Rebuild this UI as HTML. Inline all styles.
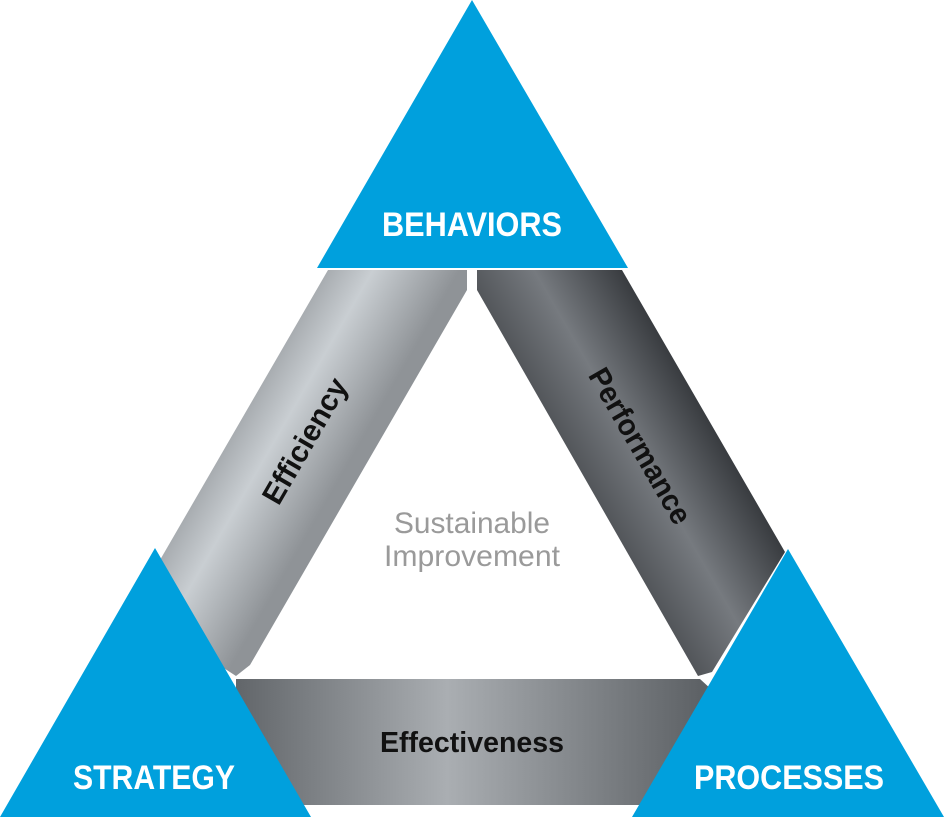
<!DOCTYPE html>
<html><head><meta charset="utf-8"><style>html,body{margin:0;padding:0;background:#fff}svg{display:block}</style></head>
<body>
<svg width="944" height="817" viewBox="0 0 944 817" xmlns="http://www.w3.org/2000/svg" font-family="Liberation Sans, sans-serif">
<defs>
<linearGradient id="gl" gradientUnits="userSpaceOnUse" x1="200" y1="420" x2="330" y2="495">
<stop offset="0" stop-color="#8a8e92"/><stop offset="0.5" stop-color="#c9ced2"/><stop offset="1" stop-color="#8f9397"/></linearGradient>
<linearGradient id="gr" gradientUnits="userSpaceOnUse" x1="580" y1="500" x2="710" y2="425">
<stop offset="0" stop-color="#4a4d51"/><stop offset="0.5" stop-color="#767a7f"/><stop offset="1" stop-color="#3a3d41"/></linearGradient>
<linearGradient id="gb" gradientUnits="userSpaceOnUse" x1="240" y1="0" x2="700" y2="0">
<stop offset="0" stop-color="#63676b"/><stop offset="0.45" stop-color="#aaaeb2"/><stop offset="1" stop-color="#5e6266"/></linearGradient>
</defs>
<polygon points="328,270 467,270 467,290 250,665 236,676 150,620 160,560" fill="url(#gl)"/>
<polygon points="477,270 622,270 785,552 712,672 698,676 477,290" fill="url(#gr)"/>
<polygon points="236,679 700,679 712,690 712,805 236,805" fill="url(#gb)"/>
<polygon points="472,0 628,268 317,268" fill="#00a0dd"/>
<polygon points="155,548 311,817 0,817" fill="#00a0dd"/>
<polygon points="788,549 944,817 632,817" fill="#00a0dd"/>
<g font-weight="bold">
<text x="472" y="236" fill="#fff" font-size="34" text-anchor="middle" textLength="180" lengthAdjust="spacingAndGlyphs">BEHAVIORS</text>
<text x="154" y="789" fill="#fff" font-size="34" text-anchor="middle" textLength="162" lengthAdjust="spacingAndGlyphs">STRATEGY</text>
<text x="789" y="789" fill="#fff" font-size="34" text-anchor="middle" textLength="190" lengthAdjust="spacingAndGlyphs">PROCESSES</text>
<text x="472" y="752" fill="#111" font-size="29" text-anchor="middle" textLength="184" lengthAdjust="spacingAndGlyphs">Effectiveness</text>
<text transform="translate(305,441) rotate(-60)" x="0" y="10" fill="#111" font-size="30" text-anchor="middle" textLength="140" lengthAdjust="spacingAndGlyphs">Efficiency</text>
<text transform="translate(640,446) rotate(60)" x="0" y="10" fill="#111" font-size="30" text-anchor="middle" textLength="175" lengthAdjust="spacingAndGlyphs">Performance</text>
</g>
<text x="472" y="533" fill="#9a9a9a" font-size="30" text-anchor="middle" textLength="156" lengthAdjust="spacingAndGlyphs">Sustainable</text>
<text x="472" y="566" fill="#9a9a9a" font-size="30" text-anchor="middle" textLength="176" lengthAdjust="spacingAndGlyphs">Improvement</text>
</svg>
</body></html>
